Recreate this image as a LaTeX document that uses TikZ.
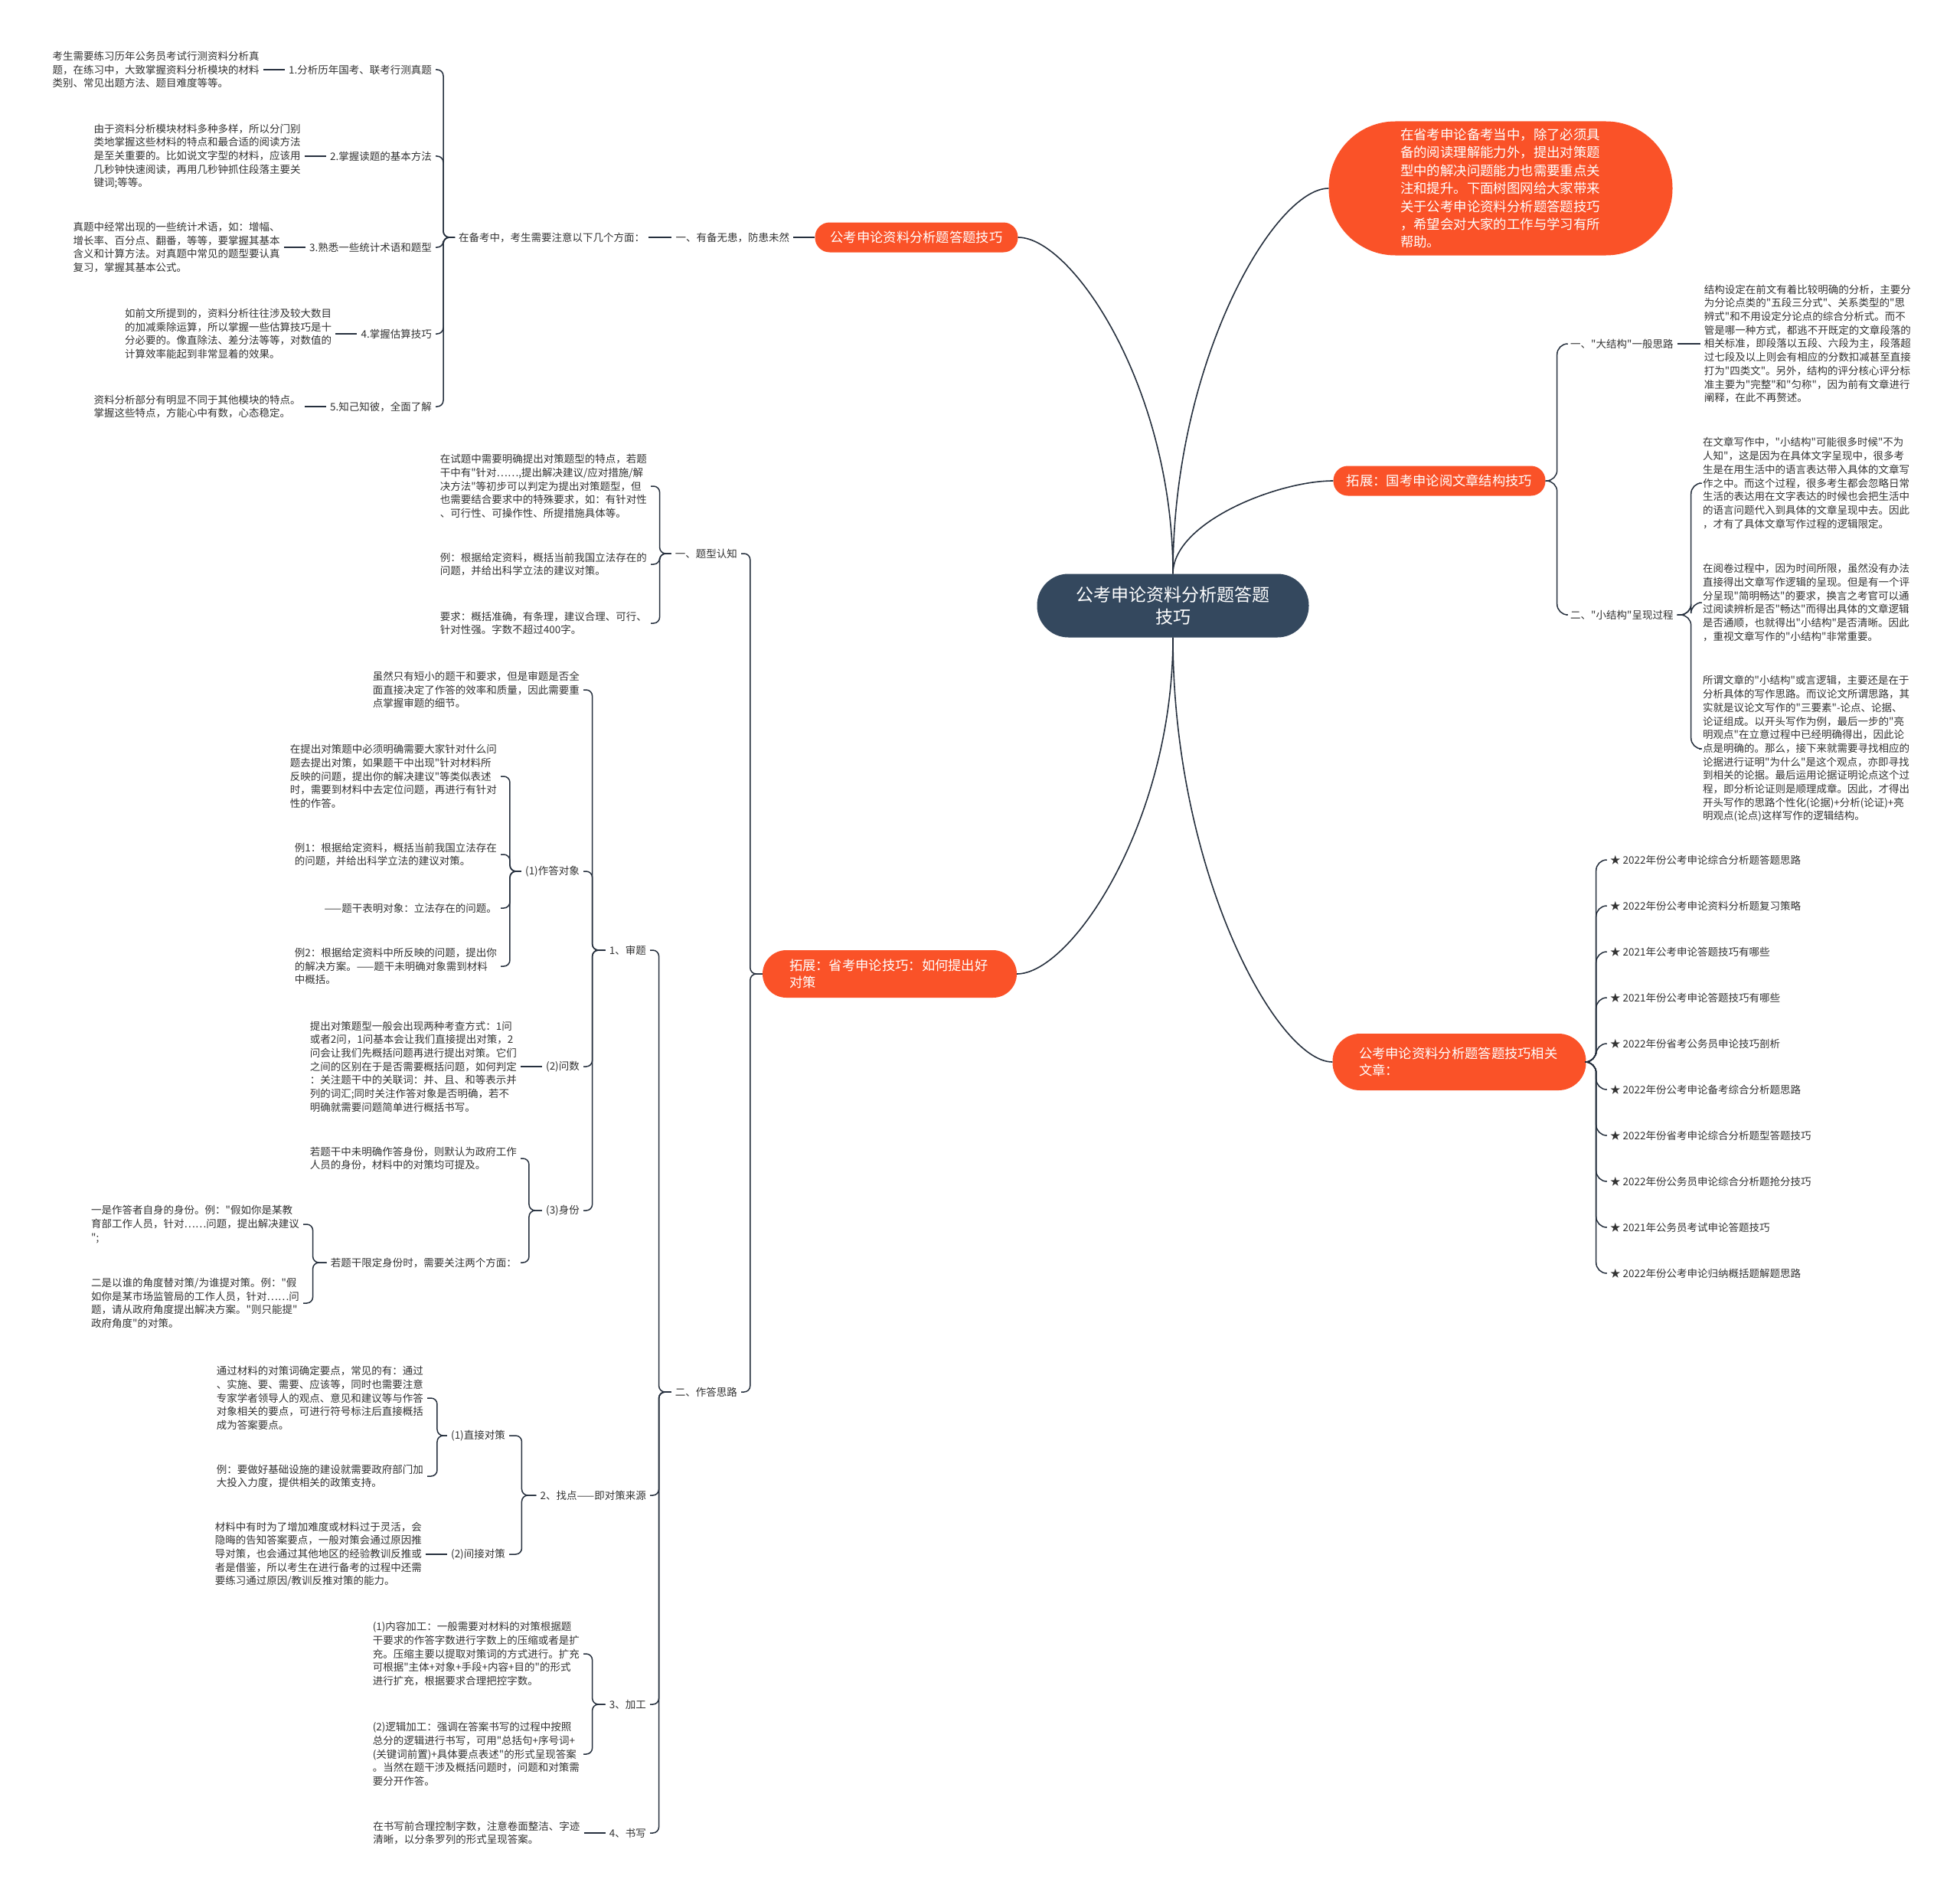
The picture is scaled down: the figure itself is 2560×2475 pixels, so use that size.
\documentclass[tikz,border=0pt]{standalone}
\usepackage{fontspec}
\setmainfont{Noto Sans CJK SC}[Ligatures=TeXOff]
\usetikzlibrary{positioning}

\definecolor{chengse}{RGB}{250,82,40}
\definecolor{gense}{RGB}{52,72,94}
\definecolor{xianse}{RGB}{38,48,62}
\definecolor{wenzi}{RGB}{51,51,51}

\tikzset{
  zhongxin/.style={fill=gense, text=white, rounded corners=41pt, minimum width=355pt, minimum height=83pt,
    inner sep=0pt, align=center, font=\fontsize{23}{29}\selectfont},
  zhuti/.style={fill=chengse, text=white, inner sep=0pt, font=\fontsize{17.3}{22}\selectfont},
  wen/.style={text=wenzi, align=left, inner xsep=5pt, inner ysep=2pt, font=\fontsize{13.5}{17.7}\selectfont},
  lian/.style={draw=xianse, line width=1.5pt, rounded corners=8pt},
  qu/.style={draw=xianse, line width=1.6pt},
}

\begin{document}
\begin{tikzpicture}[x=1pt, y=-1pt]
    % 画布大小
    \fill[white] (0,0) rectangle (2560,2475);
    \useasboundingbox (0,0) rectangle (2560,2475);

    % 中心主题
    \node[zhongxin] (root) at (1532,791) {公考申论资料分析题答题\\技巧};

    % 五个分支主题
    \node[zhuti, minimum width=265pt, minimum height=39pt, rounded corners=19pt] (o1) at (1197,310) {公考申论资料分析题答题技巧};
    \node[zhuti, minimum width=449pt, minimum height=175pt, rounded corners=87pt, text width=262pt, align=left,
      font=\fontsize{17.4}{23.4}\selectfont] (o2) at (1960,246)
      {在省考申论备考当中，除了必须具\\备的阅读理解能力外，提出对策题\\型中的解决问题能力也需要重点关\\注和提升。下面树图网给大家带来\\关于公考申论资料分析题答题技巧\\，希望会对大家的工作与学习有所\\帮助。};
    \node[zhuti, minimum width=277pt, minimum height=39pt, rounded corners=19pt] (o3) at (1880,628) {拓展：国考申论阅文章结构技巧};
    \node[zhuti, minimum width=332pt, minimum height=62pt, rounded corners=31pt, text width=262pt, align=left] (o4) at (1162,1272)
      {拓展：省考申论技巧：如何提出好\\对策};
    \node[zhuti, minimum width=331pt, minimum height=74pt, rounded corners=36pt, text width=262pt, align=left] (o5) at (1906,1387)
      {公考申论资料分析题答题技巧相关\\文章：};

    % 中心到分支的曲线
    \draw[qu] (root.north) .. controls +(0,-242) and +(71,0) .. (o1.east);
    \draw[qu] (root.north) .. controls +(0,-277) and +(-71,0) .. (o2.west);
    \draw[qu] (root.north) .. controls +(0,-67) and +(-73,0) .. (o3.west);
    \draw[qu] (root.south) .. controls +(0,241) and +(71,0) .. (o4.east);
    \draw[qu] (root.south) .. controls +(0,305) and +(-73,0) .. (o5.west);

    % 分支一：有备无患
    \node[wen, left=28pt of o1] (a0) {一、有备无患，防患未然};
    \node[wen, left=30pt of a0] (a1) {在备考中，考生需要注意以下几个方面：};
    \draw[lian] (a0) -- (o1);
    \draw[lian] (a1) -- (a0);

    \node[wen, anchor=east] (l1) at (569,91) {1.分析历年国考、联考行测真题};
    \node[wen, anchor=east] (l2) at (569,204) {2.掌握读题的基本方法};
    \node[wen, anchor=east] (l3) at (569,323) {3.熟悉一些统计术语和题型};
    \node[wen, anchor=east] (l4) at (569,436) {4.掌握估算技巧};
    \node[wen, anchor=east] (l5) at (569,531) {5.知己知彼，全面了解};
    \foreach \k in {l1,l2,l3,l4,l5}
      \draw[lian] (a1.west) -- ++(-15,0) |- (\k.east);

    \node[wen, left=28pt of l1] (d1) {考生需要练习历年公务员考试行测资料分析真\\题，在练习中，大致掌握资料分析模块的材料\\类别、常见出题方法、题目难度等等。};
    \node[wen, left=28pt of l2] (d2) {由于资料分析模块材料多种多样，所以分门别\\类地掌握这些材料的特点和最合适的阅读方法\\是至关重要的。比如说文字型的材料，应该用\\几秒钟快速阅读，再用几秒钟抓住段落主要关\\键词;等等。};
    \node[wen, left=28pt of l3] (d3) {真题中经常出现的一些统计术语，如：增幅、\\增长率、百分点、翻番，等等，要掌握其基本\\含义和计算方法。对真题中常见的题型要认真\\复习，掌握其基本公式。};
    \node[wen, left=28pt of l4] (d4) {如前文所提到的，资料分析往往涉及较大数目\\的加减乘除运算，所以掌握一些估算技巧是十\\分必要的。像直除法、差分法等等，对数值的\\计算效率能起到非常显着的效果。};
    \node[wen, left=28pt of l5] (d5) {资料分析部分有明显不同于其他模块的特点。\\掌握这些特点，方能心中有数，心态稳定。};
    \draw[lian] (d1) -- (l1);
    \draw[lian] (d2) -- (l2);
    \draw[lian] (d3) -- (l3);
    \draw[lian] (d4) -- (l4);
    \draw[lian] (d5) -- (l5);

    % 分支四：如何提出好对策
    \node[wen, anchor=east] (b1) at (968,723) {一、题型认知};
    \node[wen, anchor=east] (b2) at (968,1818) {二、作答思路};
    \draw[lian] (o4.west) -- ++(-16,0) |- (b1.east);
    \draw[lian] (o4.west) -- ++(-16,0) |- (b2.east);

    \node[wen, anchor=east] (c1) at (850,635) {在试题中需要明确提出对策题型的特点，若题\\干中有"针对……,提出解决建议/应对措施/解\\决方法"等初步可以判定为提出对策题型，但\\也需要结合要求中的特殊要求，如：有针对性\\、可行性、可操作性、所提措施具体等。};
    \node[wen, anchor=east] (c2) at (850,737) {例：根据给定资料，概括当前我国立法存在的\\问题，并给出科学立法的建议对策。};
    \node[wen, anchor=east] (c3) at (850,814) {要求：概括准确，有条理，建议合理、可行、\\针对性强。字数不超过400字。};
    \foreach \k in {c1,c2,c3}
      \draw[lian] (b1.west) -- ++(-15,0) |- (\k.east);

    \node[wen, anchor=east] (sh) at (849,1241) {1、审题};
    \node[wen, anchor=east] (zd) at (849,1953) {2、找点——即对策来源};
    \node[wen, anchor=east] (jg) at (849,2226) {3、加工};
    \node[wen, anchor=east] (sx) at (849,2394) {4、书写};
    \foreach \k in {sh,zd,jg,sx}
      \draw[lian] (b2.west) -- ++(-16,0) |- (\k.east);

    % 审题
    \node[wen, anchor=east] (s1) at (762,901) {虽然只有短小的题干和要求，但是审题是否全\\面直接决定了作答的效率和质量，因此需要重\\点掌握审题的细节。};
    \node[wen, anchor=east] (s2) at (762,1138) {(1)作答对象};
    \node[wen, anchor=east] (s3) at (762,1393) {(2)问数};
    \node[wen, anchor=east] (s4) at (762,1581) {(3)身份};
    \foreach \k in {s1,s2,s3,s4}
      \draw[lian] (sh.west) -- ++(-17,0) |- (\k.east);

    \node[wen, anchor=east] (e1) at (654,1014) {在提出对策题中必须明确需要大家针对什么问\\题去提出对策，如果题干中出现"针对材料所\\反映的问题，提出你的解决建议"等类似表述\\时，需要到材料中去定位问题，再进行有针对\\性的作答。};
    \node[wen, anchor=east] (e2) at (654,1116) {例1：根据给定资料，概括当前我国立法存在\\的问题，并给出科学立法的建议对策。};
    \node[wen, anchor=east] (e3) at (654,1186) {——题干表明对象：立法存在的问题。};
    \node[wen, anchor=east] (e4) at (654,1262) {例2：根据给定资料中所反映的问题，提出你\\的解决方案。——题干未明确对象需到材料\\中概括。};
    \foreach \k in {e1,e2,e3,e4}
      \draw[lian] (s2.west) -- ++(-15,0) |- (\k.east);

    \node[wen, left=28pt of s3] (q1) {提出对策题型一般会出现两种考查方式：1问\\或者2问，1问基本会让我们直接提出对策，2\\问会让我们先概括问题再进行提出对策。它们\\之间的区别在于是否需要概括问题，如何判定\\：关注题干中的关联词：并、且、和等表示并\\列的词汇;同时关注作答对象是否明确，若不\\明确就需要问题简单进行概括书写。};
    \draw[lian] (q1) -- (s3);

    \node[wen, anchor=east] (p1) at (680,1513) {若题干中未明确作答身份，则默认为政府工作\\人员的身份，材料中的对策均可提及。};
    \node[wen, anchor=east] (p2) at (680,1649) {若题干限定身份时，需要关注两个方面：};
    \foreach \k in {p1,p2}
      \draw[lian] (s4.west) -- ++(-17,0) |- (\k.east);

    \node[wen, anchor=east] (p21) at (396,1599) {一是作答者自身的身份。例："假如你是某教\\育部工作人员，针对……问题，提出解决建议\\";};
    \node[wen, anchor=east] (p22) at (396,1702) {二是以谁的角度替对策/为谁提对策。例："假\\如你是某市场监管局的工作人员，针对……问\\题，请从政府角度提出解决方案。"则只能提"\\政府角度"的对策。};
    \foreach \k in {p21,p22}
      \draw[lian] (p2.west) -- ++(-18,0) |- (\k.east);

    % 找点
    \node[wen, anchor=east] (zj1) at (665,1875) {(1)直接对策};
    \node[wen, anchor=east] (zj2) at (665,2030) {(2)间接对策};
    \foreach \k in {zj1,zj2}
      \draw[lian] (zd.west) -- ++(-19,0) |- (\k.east);

    \node[wen, anchor=east] (f1) at (558,1826) {通过材料的对策词确定要点，常见的有：通过\\、实施、要、需要、应该等，同时也需要注意\\专家学者领导人的观点、意见和建议等与作答\\对象相关的要点，可进行符号标注后直接概括\\成为答案要点。};
    \node[wen, anchor=east] (f2) at (558,1928) {例：要做好基础设施的建设就需要政府部门加\\大投入力度，提供相关的政策支持。};
    \foreach \k in {f1,f2}
      \draw[lian] (zj1.west) -- ++(-13,0) |- (\k.east);

    \node[wen, left=28pt of zj2] (g1) {材料中有时为了增加难度或材料过于灵活，会\\隐晦的告知答案要点，一般对策会通过原因推\\导对策，也会通过其他地区的经验教训反推或\\者是借鉴，所以考生在进行备考的过程中还需\\要练习通过原因/教训反推对策的能力。};
    \draw[lian] (g1) -- (zj2);

    % 加工、书写
    \node[wen, anchor=east] (h1) at (762,2160) {(1)内容加工：一般需要对材料的对策根据题\\干要求的作答字数进行字数上的压缩或者是扩\\充。压缩主要以提取对策词的方式进行。扩充\\可根据"主体+对象+手段+内容+目的"的形式\\进行扩充，根据要求合理把控字数。};
    \node[wen, anchor=east] (h2) at (762,2291) {(2)逻辑加工：强调在答案书写的过程中按照\\总分的逻辑进行书写，可用"总括句+序号词+\\(关键词前置)+具体要点表述"的形式呈现答案\\。当然在题干涉及概括问题时，问题和对策需\\要分开作答。};
    \foreach \k in {h1,h2}
      \draw[lian] (jg.west) -- ++(-17,0) |- (\k.east);

    \node[wen, left=28pt of sx] (w1) {在书写前合理控制字数，注意卷面整洁、字迹\\清晰，以分条罗列的形式呈现答案。};
    \draw[lian] (w1) -- (sx);

    % 分支三：文章结构
    \node[wen, anchor=west] (k1) at (2046,449) {一、"大结构"一般思路};
    \node[wen, anchor=west] (k2) at (2046,803) {二、"小结构"呈现过程};
    \draw[lian, rounded corners=14pt] (o3.east) -- ++(15,0) |- (k1.west);
    \draw[lian, rounded corners=14pt] (o3.east) -- ++(15,0) |- (k2.west);

    \node[wen, right=30pt of k1] (r1) {结构设定在前文有着比较明确的分析，主要分\\为分论点类的"五段三分式"、关系类型的"思\\辨式"和不用设定分论点的综合分析式。而不\\管是哪一种方式，都逃不开既定的文章段落的\\相关标准，即段落以五段、六段为主，段落超\\过七段及以上则会有相应的分数扣减甚至直接\\打为"四类文"。另外，结构的评分核心评分标\\准主要为"完整"和"匀称"，因为前有文章进行\\阐释，在此不再赘述。};
    \draw[lian] (k1) -- (r1);

    \node[wen, anchor=west] (r2) at (2219,631) {在文章写作中，"小结构"可能很多时候"不为\\人知"，这是因为在具体文字呈现中，很多考\\生是在用生活中的语言表达带入具体的文章写\\作之中。而这个过程，很多考生都会忽略日常\\生活的表达用在文字表达的时候也会把生活中\\的语言问题代入到具体的文章呈现中去。因此\\，才有了具体文章写作过程的逻辑限定。};
    \node[wen, anchor=west] (r3) at (2219,787) {在阅卷过程中，因为时间所限，虽然没有办法\\直接得出文章写作逻辑的呈现。但是有一个评\\分呈现"简明畅达"的要求，换言之考官可以通\\过阅读辨析是否"畅达"而得出具体的文章逻辑\\是否通顺，也就得出"小结构"是否清晰。因此\\，重视文章写作的"小结构"非常重要。};
    \node[wen, anchor=west] (r4) at (2219,978) {所谓文章的"小结构"或言逻辑，主要还是在于\\分析具体的写作思路。而议论文所谓思路，其\\实就是议论文写作的"三要素"-论点、论据、\\论证组成。以开头写作为例，最后一步的"亮\\明观点"在立意过程中已经明确得出，因此论\\点是明确的。那么，接下来就需要寻找相应的\\论据进行证明"为什么"是这个观点，亦即寻找\\到相关的论据。最后运用论据证明论点这个过\\程，即分析论证则是顺理成章。因此，才得出\\开头写作的思路个性化(论据)+分析(论证)+亮\\明观点(论点)这样写作的逻辑结构。};
    \foreach \k in {r2,r3,r4}
      \draw[lian, rounded corners=14pt] (k2.east) -- ++(18,0) |- (\k.west);

    % 分支五：相关文章
    \node[wen, anchor=west] (t1) at (2098,1123) {★ 2022年份公考申论综合分析题答题思路};
    \node[wen, anchor=west] (t2) at (2098,1183) {★ 2022年份公考申论资料分析题复习策略};
    \node[wen, anchor=west] (t3) at (2098,1243) {★ 2021年公考申论答题技巧有哪些};
    \node[wen, anchor=west] (t4) at (2098,1303) {★ 2021年份公考申论答题技巧有哪些};
    \node[wen, anchor=west] (t5) at (2098,1363) {★ 2022年份省考公务员申论技巧剖析};
    \node[wen, anchor=west] (t6) at (2098,1423) {★ 2022年份公考申论备考综合分析题思路};
    \node[wen, anchor=west] (t7) at (2098,1483) {★ 2022年份省考申论综合分析题型答题技巧};
    \node[wen, anchor=west] (t8) at (2098,1543) {★ 2022年份公务员申论综合分析题抢分技巧};
    \node[wen, anchor=west] (t9) at (2098,1603) {★ 2021年公务员考试申论答题技巧};
    \node[wen, anchor=west] (t10) at (2098,1663) {★ 2022年份公考申论归纳概括题解题思路};
    \foreach \k in {t1,t2,t3,t4,t5,t6,t7,t8,t9,t10}
      \draw[lian, rounded corners=14pt] (o5.east) -- ++(13,0) |- (\k.west);
\end{tikzpicture}
\end{document}
